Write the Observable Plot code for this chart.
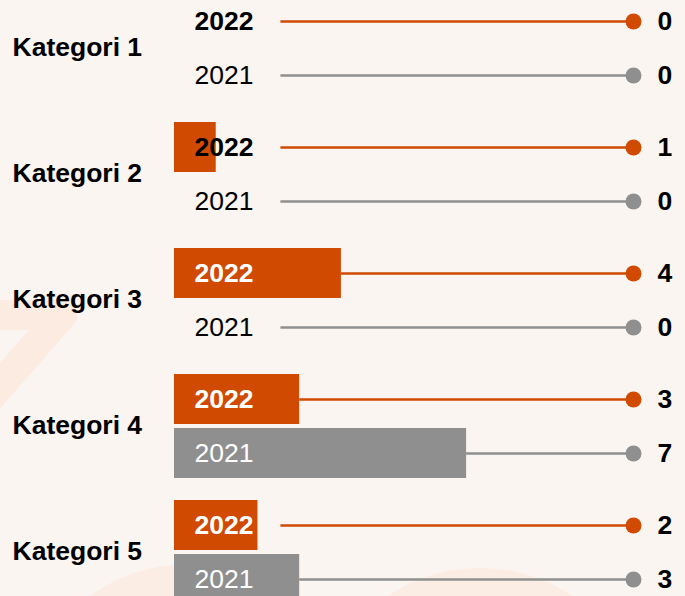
<!DOCTYPE html>
<html>
<head>
<meta charset="utf-8">
<script src="https://cdn.jsdelivr.net/npm/d3@7"></script>
<script src="https://cdn.jsdelivr.net/npm/@observablehq/plot@0.6"></script>
<style>
  html, body { margin: 0; padding: 0; background: #FAF5F1; }
  #wrap { position: relative; width: 685px; height: 596px; overflow: hidden; }
  #deco { position: absolute; left: 0; top: 0; }
  #chart { position: absolute; left: 0; top: 0; }
</style>
</head>
<body>
<div id="wrap">
  <svg id="deco" width="685" height="596" xmlns="http://www.w3.org/2000/svg">
    <polyline points="-30,315 62,315 -30,420" fill="none" stroke="#FCEBE1" stroke-width="30" stroke-linejoin="round" stroke-linecap="round"/>
    <ellipse cx="190" cy="690" rx="150" ry="126" fill="#FCEDE4"/>
    <ellipse cx="480" cy="700" rx="150" ry="132" fill="#FCEDE4"/>
  </svg>
  <div id="chart"></div>
</div>
<script>
const categories = ["Kategori 1", "Kategori 2", "Kategori 3", "Kategori 4", "Kategori 5"];
const years = ["2022", "2021"];
const values2022 = [0, 1, 4, 3, 2];
const values2021 = [0, 0, 0, 7, 3];

const xMax = 11;        // end of the lollipop lines (dot position)
const lineStart = 2.55; // lines start after the year label
const ORANGE = "#D04A02";
const GREY = "#8F8F8F";
const FONT = "Liberation Sans, Arial, Helvetica, sans-serif";
const FS = 26.5;

const data = [];
categories.forEach((c, i) => {
  data.push({cat: c, year: "2022", value: values2022[i], color: ORANGE});
  data.push({cat: c, year: "2021", value: values2021[i], color: GREY});
});
const d22 = data.filter(d => d.year === "2022");
const d21 = data.filter(d => d.year === "2021");
const labelFill = d => d.value >= 2 ? "#FFFFFF" : "#000000";

const chart = Plot.plot({
  width: 685,
  height: 596,
  marginLeft: 174,
  marginRight: 52,
  marginTop: 0,
  marginBottom: 0,
  style: {background: "transparent", overflow: "visible", fontFamily: FONT},
  x: {domain: [0, xMax], axis: null},
  y: {domain: years, padding: 4.5 / 54.5, axis: null},
  fy: {domain: categories, range: [-9.5, 609.2], paddingInner: 0.1013, paddingOuter: 0, axis: null},
  color: {type: "identity"},
  marks: [
    Plot.barX(data, {fy: "cat", y: "year", x1: () => 0, x2: "value", fill: "color"}),
    Plot.ruleY(data, {fy: "cat", y: "year", x1: d => Math.max(d.value, lineStart), x2: () => xMax, stroke: "color", strokeWidth: 2.5}),
    Plot.dot(data, {fy: "cat", y: "year", x: () => xMax, r: 8, fill: "color", stroke: null}),
    Plot.text(d22, {fy: "cat", y: "year", x: () => 0, dx: 20, text: "year", textAnchor: "start", fill: labelFill, fontSize: FS, fontWeight: "bold", fontFamily: FONT}),
    Plot.text(d21, {fy: "cat", y: "year", x: () => 0, dx: 20, text: "year", textAnchor: "start", fill: labelFill, fontSize: FS, fontWeight: "normal", fontFamily: FONT}),
    Plot.text(data, {fy: "cat", y: "year", x: () => xMax, dx: 24, text: d => String(d.value), textAnchor: "start", fill: "#000000", fontSize: FS, fontWeight: "bold", fontFamily: FONT}),
    Plot.text(categories, {fy: d => d, text: d => d, frameAnchor: "left", dx: -162, textAnchor: "start", fill: "#000000", fontSize: FS, fontWeight: "bold", fontFamily: FONT})
  ]
});
document.getElementById("chart").appendChild(chart);
</script>
</body>
</html>
